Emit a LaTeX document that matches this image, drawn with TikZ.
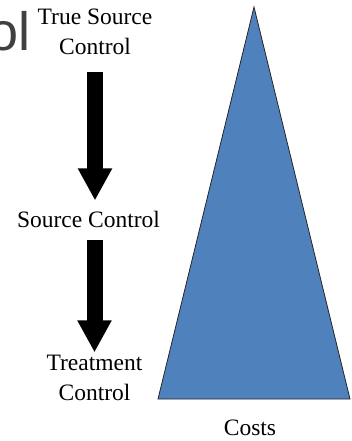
\documentclass[tikz,border=0pt]{standalone}
\usepackage{fontspec}
\setmainfont{Liberation Serif}
\newfontfamily\titlefont{Liberation Sans}
\usetikzlibrary{arrows.meta}
\definecolor{costblue}{HTML}{4F81BD}
\definecolor{titlegray}{HTML}{404040}
\tikzset{
  lbl/.style={font=\fontsize{23.5}{30}\selectfont, align=center, inner sep=0pt},
  downarrow/.style={line width=16pt, -{Triangle[length=32pt,width=32pt]}},
}
\begin{document}
\begin{tikzpicture}[x=1pt,y=-1pt]
\useasboundingbox (0,0) rectangle (352,441);
\clip (0,0) rectangle (352,441);
% cut-off slide title
\node [font=\titlefont\fontsize{54}{60}\selectfont, text=titlegray, inner sep=0pt, anchor=base east] (title) at (30.7,51) {ol};
% the three levels
\node [lbl, anchor=base] (truesrc) at (95,55) {True Source\\Control};
\node [lbl, anchor=base] (src) at (88.5,227) {Source Control};
\node [lbl, anchor=base] (treat) at (94.5,400) {Treatment\\Control};
\draw [downarrow, shorten <=17pt, shorten >=10pt] (truesrc.south) -- (truesrc.south |- src.north);
\draw [downarrow, shorten <=13pt, shorten >=2pt] (src.south -| treat.north) -- (treat.north);
% cost triangle
\draw [fill=costblue, draw=black!85, line width=0.8pt] (254,7) -- (350,399) -- (158,399) -- cycle;
\node [lbl, anchor=base] (costs) at (250,435) {Costs};
\end{tikzpicture}
\end{document}
